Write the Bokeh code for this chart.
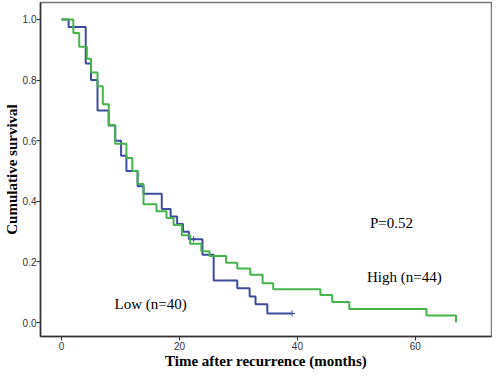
from bokeh.plotting import figure
from bokeh.models import Range1d, Label, FixedTicker, NumeralTickFormatter
from bokeh.embed import file_html
from bokeh.resources import INLINE

# Low (n=40) Kaplan-Meier curve (months, cumulative survival)
low_t = [0, 1.2, 4.1, 5.0, 6.1, 8.0, 9.1, 10.1, 11.0, 12.9, 13.9, 17.0, 18.5, 19.6,
         20.6, 21.6, 23.9, 25.8, 29.8, 31.9, 32.9, 34.9, 39.1]
low_s = [1.0, 0.975, 0.855, 0.80, 0.70, 0.65, 0.60, 0.55, 0.50, 0.45, 0.425, 0.375, 0.35, 0.325,
         0.30, 0.275, 0.224, 0.139, 0.113, 0.086, 0.06, 0.03, 0.03]
low_cens_t = [22.4, 39.1]
low_cens_s = [0.275, 0.03]

# High (n=44)
high_t = [0, 2.0, 3.0, 4.3, 5.0, 6.1, 7.0, 8.0, 9.1, 11.0, 12.0, 12.9, 13.9, 16.1, 17.8,
          19.0, 20.4, 21.8, 23.7, 25.1, 27.9, 29.8, 32.0, 34.1, 35.9, 43.9, 45.9, 48.8,
          61.9, 66.9]
high_s = [1.0, 0.955, 0.91, 0.87, 0.825, 0.78, 0.72, 0.652, 0.59, 0.543, 0.5, 0.457, 0.39,
          0.367, 0.345, 0.322, 0.288, 0.26, 0.235, 0.22, 0.197, 0.178, 0.158, 0.13, 0.11,
          0.091, 0.068, 0.045, 0.023, 0.0]

x_ticks = [0, 20, 40, 60]
y_ticks = [0.0, 0.2, 0.4, 0.6, 0.8, 1.0]

BLUE = "#3C4C9E"
GREEN = "#45B54B"

p = figure(width=492, height=371, output_backend="svg", toolbar_location=None,
           x_range=Range1d(-3.57, 72.92), y_range=Range1d(-0.046, 1.056),
           min_border_left=0, min_border_right=1, min_border_top=2, min_border_bottom=0,
           background_fill_color="white", border_fill_color="white")
p.grid.visible = False
p.outline_line_color = "#777777"
p.outline_line_width = 1.5

p.step(low_t, low_s, mode="after", line_color=BLUE, line_width=2)
p.step(high_t, high_s, mode="after", line_color=GREEN, line_width=2)
p.scatter(low_cens_t, low_cens_s, marker="cross", size=6, line_color=BLUE, line_width=1)

for ax in (p.xaxis, p.yaxis):
    ax.axis_line_color = "#333333"
    ax.axis_line_width = 1.5
    ax.major_tick_line_color = "#333333"
    ax.major_tick_out = 4
    ax.major_tick_in = 0
    ax.minor_tick_line_color = None
    ax.major_label_text_font = "Liberation Sans"
    ax.major_label_text_font_size = "10px"
    ax.major_label_text_color = "#333333"
    ax.axis_label_text_font = "Liberation Serif"
    ax.axis_label_text_font_style = "bold"
    ax.axis_label_text_font_size = "15px"
    ax.axis_label_text_color = "black"

p.xaxis.ticker = FixedTicker(ticks=x_ticks)
p.yaxis.ticker = FixedTicker(ticks=y_ticks)
p.yaxis.formatter = NumeralTickFormatter(format="0.0")
p.xaxis.axis_label = "Time after recurrence (months)"
p.yaxis.axis_label = "Cumulative survival"
p.xaxis.major_label_standoff = 1
p.xaxis.axis_label_standoff = 0
p.yaxis.major_label_standoff = 0
p.yaxis.axis_label_standoff = 0

for txt, x, y in [("P=0.52", 52.3, 0.328), ("High (n=44)", 51.8, 0.149), ("Low (n=40)", 9.0, 0.06)]:
    p.add_layout(Label(x=x, y=y, text=txt, text_font="Liberation Serif", text_font_size="15px",
                       text_color="black", text_baseline="middle", text_align="left"))

open("out.html", "w").write(file_html(p, INLINE))
